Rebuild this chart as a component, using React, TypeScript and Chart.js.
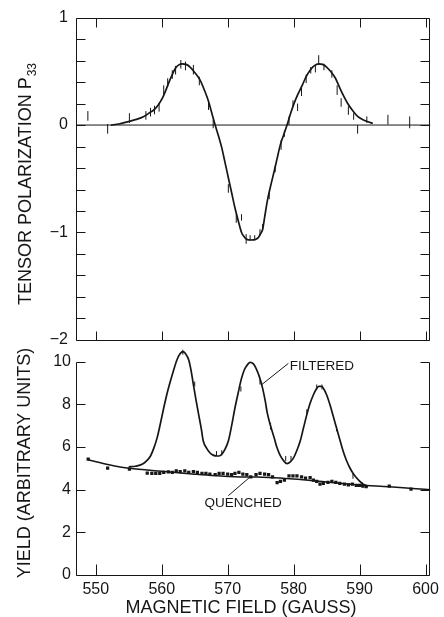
import React, { useEffect, useRef } from 'react';
import { Chart, registerables } from 'chart.js';

Chart.register(...registerables);

// ---------- axes ----------
const X_MIN = 547.0;
const X_MAX = 600.75;
const xTicks = [550, 560, 570, 580, 590, 600];
const p33Ticks = [-2, -1, 0, 1];
const p33TickLabels = ['\u22122', '\u22121', '0', '1'];
const p33MinorTicks = [-2, -1.8, -1.6, -1.4, -1.2, -1, -0.8, -0.6, -0.4, -0.2, 0, 0.2, 0.4, 0.6, 0.8, 1];
const yieldTicks = [0, 2, 4, 6, 8, 10];
const YIELD_MAX = 11.02;

// ---------- top panel: tensor polarization P33 ----------
const p33FitX = [552.3, 553.5, 554.8, 556.0, 557.3, 558.3, 558.8, 559.5, 560.1, 560.6, 561.1, 561.6, 562.1, 562.6, 563.1, 563.7, 564.3, 565.0, 565.8, 566.5, 567.1, 567.6, 568.1, 568.6, 569.1, 569.6, 570.1, 570.6, 571.1, 571.6, 572.1, 572.5, 572.8, 573.5, 574.2, 574.6, 575.0, 575.3, 575.6, 576.0, 576.5, 577.05, 577.5, 578.0, 578.5, 579.0, 579.5, 580.0, 580.6, 581.3, 581.9, 582.5, 583.1, 583.8, 584.4, 585.0, 585.6, 586.3, 586.9, 587.5, 588.2, 589.0, 589.7, 590.5, 591.3, 592.0];
const p33FitY = [0.0, 0.01, 0.03, 0.05, 0.08, 0.12, 0.14, 0.19, 0.25, 0.32, 0.40, 0.47, 0.53, 0.56, 0.57, 0.565, 0.54, 0.49, 0.42, 0.32, 0.22, 0.11, 0.0, -0.10, -0.21, -0.35, -0.49, -0.63, -0.77, -0.89, -1.0, -1.04, -1.06, -1.07, -1.065, -1.05, -1.01, -0.97, -0.86, -0.71, -0.57, -0.43, -0.31, -0.18, -0.09, 0.0, 0.10, 0.19, 0.28, 0.37, 0.45, 0.51, 0.55, 0.57, 0.565, 0.54, 0.50, 0.44, 0.36, 0.28, 0.20, 0.13, 0.08, 0.05, 0.03, 0.015];

const p33PtX = [548.8, 551.8, 555.1, 557.6, 558.3, 558.9, 559.6, 560.3, 560.9, 561.6, 562.1, 562.9, 563.6, 564.8, 565.7, 567.1, 567.8, 570.1, 571.3, 572.1, 572.8, 573.4, 574.1, 574.9, 575.3, 576.3, 577.2, 578.1, 578.6, 579.3, 579.9, 580.6, 581.2, 581.9, 582.6, 583.3, 583.8, 584.6, 585.8, 586.6, 587.2, 588.3, 589.1, 589.7, 591.1, 594.3, 597.6];
const p33PtY = [0.085, -0.035, 0.065, 0.09, 0.12, 0.14, 0.165, 0.325, 0.395, 0.47, 0.51, 0.565, 0.55, 0.515, 0.41, 0.18, 0.01, -0.59, -0.87, -0.86, -1.06, -1.05, -1.05, -1.0, -0.95, -0.66, -0.41, -0.185, -0.08, 0.04, 0.2, 0.165, 0.315, 0.43, 0.51, 0.52, 0.605, 0.54, 0.475, 0.325, 0.21, 0.135, 0.08, -0.04, 0.05, 0.05, 0.025];
const p33PtErr = [0.045, 0.045, 0.045, 0.04, 0.04, 0.04, 0.04, 0.045, 0.04, 0.04, 0.04, 0.04, 0.04, 0.045, 0.04, 0.04, 0.04, 0.04, 0.04, 0.03, 0.045, 0.025, 0.025, 0.03, 0.03, 0.03, 0.03, 0.045, 0.03, 0.04, 0.03, 0.035, 0.045, 0.04, 0.03, 0.03, 0.045, 0.03, 0.035, 0.045, 0.04, 0.04, 0.03, 0.04, 0.03, 0.045, 0.055];

// ---------- bottom panel: yield ----------
const filteredFitX = [555.0, 556.0, 557.1, 557.7, 558.3, 558.8, 559.3, 559.8, 560.3, 560.8, 561.3, 561.8, 562.3, 562.8, 563.2, 563.6, 564.1, 564.5, 564.8, 565.2, 565.6, 566.0, 566.3, 566.8, 567.3, 567.8, 568.3, 568.7, 569.1, 569.6, 570.1, 570.6, 571.1, 571.6, 572.1, 572.5, 572.8, 573.4, 573.9, 574.3, 574.8, 575.3, 575.7, 576.0, 576.5, 577.05, 577.5, 578.0, 578.5, 579.0, 579.5, 580.0, 580.5, 581.0, 581.5, 582.0, 582.5, 583.0, 583.4, 583.8, 584.2, 584.5, 585.0, 585.5, 586.0, 586.5, 587.0, 587.5, 588.0, 588.5, 589.0, 589.5, 590.0, 590.5, 591.3];
const filteredFitY = [5.07, 5.1, 5.2, 5.35, 5.58, 5.95, 6.43, 7.1, 7.83, 8.5, 9.07, 9.6, 10.08, 10.38, 10.47, 10.38, 10.08, 9.5, 8.92, 8.2, 7.52, 6.85, 6.28, 5.95, 5.73, 5.62, 5.58, 5.58, 5.66, 5.9, 6.28, 7.0, 7.83, 8.55, 9.22, 9.6, 9.77, 9.97, 9.9, 9.69, 9.3, 8.75, 8.15, 7.6, 7.0, 6.43, 5.95, 5.58, 5.35, 5.22, 5.3, 5.5, 5.85, 6.28, 6.9, 7.52, 8.05, 8.45, 8.7, 8.84, 8.84, 8.76, 8.45, 7.99, 7.45, 6.9, 6.35, 5.81, 5.38, 5.04, 4.77, 4.57, 4.4, 4.27, 4.16];

const filteredErrX = [563.2, 565.0, 568.3, 569.1, 572.0, 574.9, 576.5, 578.8, 579.6, 582.0, 583.5, 584.3, 586.5, 589.0, 590.4];
const filteredErrLo = [10.33, 8.84, 5.58, 5.6, 8.6, 8.93, 6.82, 5.35, 5.35, 7.53, 8.7, 8.7, 6.74, 4.51, 4.11];
const filteredErrHi = [10.56, 9.07, 5.81, 5.85, 8.84, 9.16, 7.13, 5.58, 5.58, 7.77, 8.93, 8.93, 6.98, 4.74, 4.34];

const quenchedFitX = [548.85, 552.0, 555.1, 560.0, 564.6, 568.0, 572.6, 574.5, 577.0, 580.0, 585.0, 590.0, 594.5, 598.0, 600.75];
const quenchedFitY = [5.4, 5.17, 5.0, 4.86, 4.74, 4.66, 4.59, 4.6, 4.56, 4.5, 4.36, 4.22, 4.14, 4.06, 4.0];

const quenchedX = [548.85, 551.8, 555.1, 557.8, 558.5, 559.1, 559.7, 560.3, 561.0, 561.6, 562.2, 562.8, 563.5, 564.1, 564.8, 565.4, 566.1, 566.7, 567.3, 568.1, 568.7, 569.3, 570.0, 570.6, 571.1, 571.7, 572.3, 572.9, 573.5, 574.3, 574.9, 575.6, 576.2, 576.8, 577.5, 578.0, 578.6, 579.3, 579.9, 580.5, 581.2, 581.8, 582.5, 583.0, 583.5, 584.0, 584.5, 585.2, 585.8, 586.4, 587.0, 587.7, 588.3, 588.9, 589.5, 590.0, 590.5, 591.0, 594.5, 597.8];
const quenchedY = [5.43, 5.01, 4.96, 4.78, 4.76, 4.76, 4.76, 4.81, 4.84, 4.81, 4.88, 4.85, 4.88, 4.81, 4.85, 4.81, 4.76, 4.76, 4.73, 4.70, 4.76, 4.76, 4.73, 4.70, 4.76, 4.81, 4.73, 4.70, 4.60, 4.70, 4.76, 4.73, 4.70, 4.60, 4.33, 4.39, 4.45, 4.65, 4.65, 4.65, 4.60, 4.54, 4.57, 4.45, 4.39, 4.26, 4.29, 4.34, 4.39, 4.34, 4.29, 4.26, 4.23, 4.26, 4.20, 4.20, 4.17, 4.14, 4.17, 4.03];

// ---------- text ----------
const topTitle = 'TENSOR POLARIZATION P';
const topTitleSub = '33';
const bottomTitle = 'YIELD (ARBITRARY UNITS)';
const xTitle = 'MAGNETIC FIELD (GAUSS)';
const filteredLabel = 'FILTERED';
const quenchedLabel = 'QUENCHED';

const INK = '#161616';
const FONT = "'Liberation Sans', Arial, sans-serif";

const pts = (xs: number[], ys: number[]) => xs.map((x, i) => ({ x, y: ys[i] }));
const errSegments = (xs: number[], lo: number[], hi: number[]) => {
  const out: { x: number; y: number | null }[] = [];
  xs.forEach((x, i) => {
    out.push({ x, y: lo[i] });
    out.push({ x, y: hi[i] });
    out.push({ x, y: null });
  });
  return out;
};

const framePlugin = {
  id: 'frameAndText',
  afterDraw(chart: any) {
    const { ctx, chartArea, scales } = chart;
    const xs = scales.x;
    const yT = scales.yTop;
    const yB = scales.yBot;
    const L = Math.round(chartArea.left) + 0.5;
    const R = Math.round(chartArea.right) - 0.5;
    const r = (v: number) => Math.round(v) + 0.5;
    const TL = 9;
    ctx.save();
    ctx.strokeStyle = INK;
    ctx.lineWidth = 1;
    // top panel frame
    const tTop = r(yT.getPixelForValue(1));
    const tBot = r(yT.getPixelForValue(-2));
    ctx.beginPath();
    ctx.rect(L, tTop, R - L, tBot - tTop);
    p33MinorTicks.forEach((v) => {
      const y = r(yT.getPixelForValue(v));
      ctx.moveTo(L, y); ctx.lineTo(L + TL, y);
      ctx.moveTo(R, y); ctx.lineTo(R - TL, y);
    });
    xTicks.forEach((v) => {
      const x = r(xs.getPixelForValue(v));
      ctx.moveTo(x, tTop); ctx.lineTo(x, tTop + TL);
      ctx.moveTo(x, tBot); ctx.lineTo(x, tBot - TL);
    });
    // bottom panel frame (open top)
    const bTop = r(yB.getPixelForValue(10));
    const bBot = r(yB.getPixelForValue(0));
    ctx.moveTo(L, bTop); ctx.lineTo(L, bBot); ctx.lineTo(R, bBot); ctx.lineTo(R, bTop);
    yieldTicks.forEach((v) => {
      const y = r(yB.getPixelForValue(v));
      ctx.moveTo(L, y); ctx.lineTo(L + TL, y);
      ctx.moveTo(R, y); ctx.lineTo(R - TL, y);
    });
    xTicks.forEach((v) => {
      const x = r(xs.getPixelForValue(v));
      ctx.moveTo(x, bBot); ctx.lineTo(x, bBot - 11);
    });
    // leader lines
    ctx.moveTo(xs.getPixelForValue(579.2), yB.getPixelForValue(9.92));
    ctx.lineTo(xs.getPixelForValue(575.1), yB.getPixelForValue(8.91));
    ctx.moveTo(xs.getPixelForValue(570.1), yB.getPixelForValue(3.72));
    ctx.lineTo(xs.getPixelForValue(573.3), yB.getPixelForValue(4.57));
    ctx.stroke();

    // annotations
    ctx.fillStyle = INK;
    ctx.textBaseline = 'middle';
    ctx.textAlign = 'left';
    ctx.font = `13.5px ${FONT}`;
    ctx.fillText(filteredLabel, xs.getPixelForValue(579.4), yB.getPixelForValue(9.8));
    ctx.fillText(quenchedLabel, xs.getPixelForValue(566.5), yB.getPixelForValue(3.35));

    // x title
    ctx.font = `18px ${FONT}`;
    ctx.textAlign = 'center';
    ctx.fillText(xTitle, 241, 608);

    // y titles (rotated)
    ctx.save();
    ctx.translate(26, 184);
    ctx.rotate(-Math.PI / 2);
    ctx.font = `18px ${FONT}`;
    const wMain = ctx.measureText(topTitle).width;
    ctx.font = `12px ${FONT}`;
    const wSub = ctx.measureText(topTitleSub).width;
    const start = -(wMain + wSub + 1) / 2;
    ctx.textAlign = 'left';
    ctx.font = `18px ${FONT}`;
    ctx.fillText(topTitle, start, 0);
    ctx.font = `12px ${FONT}`;
    ctx.fillText(topTitleSub, start + wMain + 1, 7);
    ctx.restore();

    ctx.save();
    ctx.translate(25, 463);
    ctx.rotate(-Math.PI / 2);
    ctx.font = `18px ${FONT}`;
    ctx.textAlign = 'center';
    ctx.fillText(bottomTitle, 0, 0);
    ctx.restore();

    ctx.restore();
  },
};

export default function App() {
  const ref = useRef<HTMLCanvasElement | null>(null);
  useEffect(() => {
    if (!ref.current) return;
    const lineBase = { pointRadius: 0, borderColor: INK, fill: false, spanGaps: false };
    const chart = new Chart(ref.current, {
      type: 'line',
      data: {
        datasets: [
          { ...lineBase, yAxisID: 'yTop', data: [{ x: X_MIN, y: 0 }, { x: X_MAX, y: 0 }], borderWidth: 1 },
          { ...lineBase, yAxisID: 'yTop', data: pts(p33FitX, p33FitY), borderWidth: 1.7, cubicInterpolationMode: 'monotone' },
          {
            ...lineBase, yAxisID: 'yTop', borderWidth: 1,
            data: errSegments(p33PtX, p33PtY.map((v, i) => v - p33PtErr[i]), p33PtY.map((v, i) => v + p33PtErr[i])),
          },
          { ...lineBase, yAxisID: 'yBot', data: pts(filteredFitX, filteredFitY), borderWidth: 1.7, cubicInterpolationMode: 'monotone' },
          { ...lineBase, yAxisID: 'yBot', borderWidth: 1, data: errSegments(filteredErrX, filteredErrLo, filteredErrHi) },
          { ...lineBase, yAxisID: 'yBot', data: pts(quenchedFitX, quenchedFitY), borderWidth: 1.5, cubicInterpolationMode: 'monotone' },
          {
            yAxisID: 'yBot', data: pts(quenchedX, quenchedY), showLine: false,
            pointStyle: 'rect', pointRadius: 2.3, pointBackgroundColor: INK, pointBorderWidth: 0, borderColor: INK,
          },
        ] as any,
      },
      options: {
        responsive: false,
        animation: false,
        events: [],
        layout: { padding: { left: 0, right: 9, top: 13, bottom: 0 } },
        plugins: { legend: { display: false }, tooltip: { enabled: false }, title: { display: false } },
        scales: {
          x: {
            type: 'linear', min: X_MIN, max: X_MAX, offset: false,
            grid: { display: false, drawTicks: false }, border: { display: false },
            ticks: { color: INK, font: { family: FONT, size: 16 }, padding: 5, maxRotation: 0, autoSkip: false },
            afterBuildTicks: (s: any) => { s.ticks = xTicks.map((v) => ({ value: v })); },
            afterFit: (s: any) => { s.height = 42; },
          },
          yBot: {
            type: 'linear', position: 'left', stack: 'panels', stackWeight: 237,
            min: 0, max: YIELD_MAX,
            grid: { display: false, drawTicks: false }, border: { display: false },
            ticks: { color: INK, font: { family: FONT, size: 16 }, padding: 5, autoSkip: false },
            afterBuildTicks: (s: any) => { s.ticks = yieldTicks.map((v) => ({ value: v })); },
            afterFit: (s: any) => { s.width = 76; },
          },
          yTop: {
            type: 'linear', position: 'left', stack: 'panels', stackWeight: 325,
            min: -2, max: 1,
            grid: { display: false, drawTicks: false }, border: { display: false },
            ticks: {
              color: INK, font: { family: FONT, size: 16 }, padding: 8, autoSkip: false,
              callback: (v: any) => { const i = p33Ticks.indexOf(Number(v)); return i >= 0 ? p33TickLabels[i] : ''; },
            },
            afterBuildTicks: (s: any) => { s.ticks = p33Ticks.map((v) => ({ value: v })); },
            afterFit: (s: any) => { s.width = 76; },
          },
        } as any,
      },
      plugins: [framePlugin],
    });
    return () => chart.destroy();
  }, []);
  return (
    <div style={{ position: 'absolute', left: 0, top: 0, width: 444, height: 617, background: '#fff' }}>
      <canvas ref={ref} width={444} height={617} style={{ display: 'block' }} />
    </div>
  );
}
